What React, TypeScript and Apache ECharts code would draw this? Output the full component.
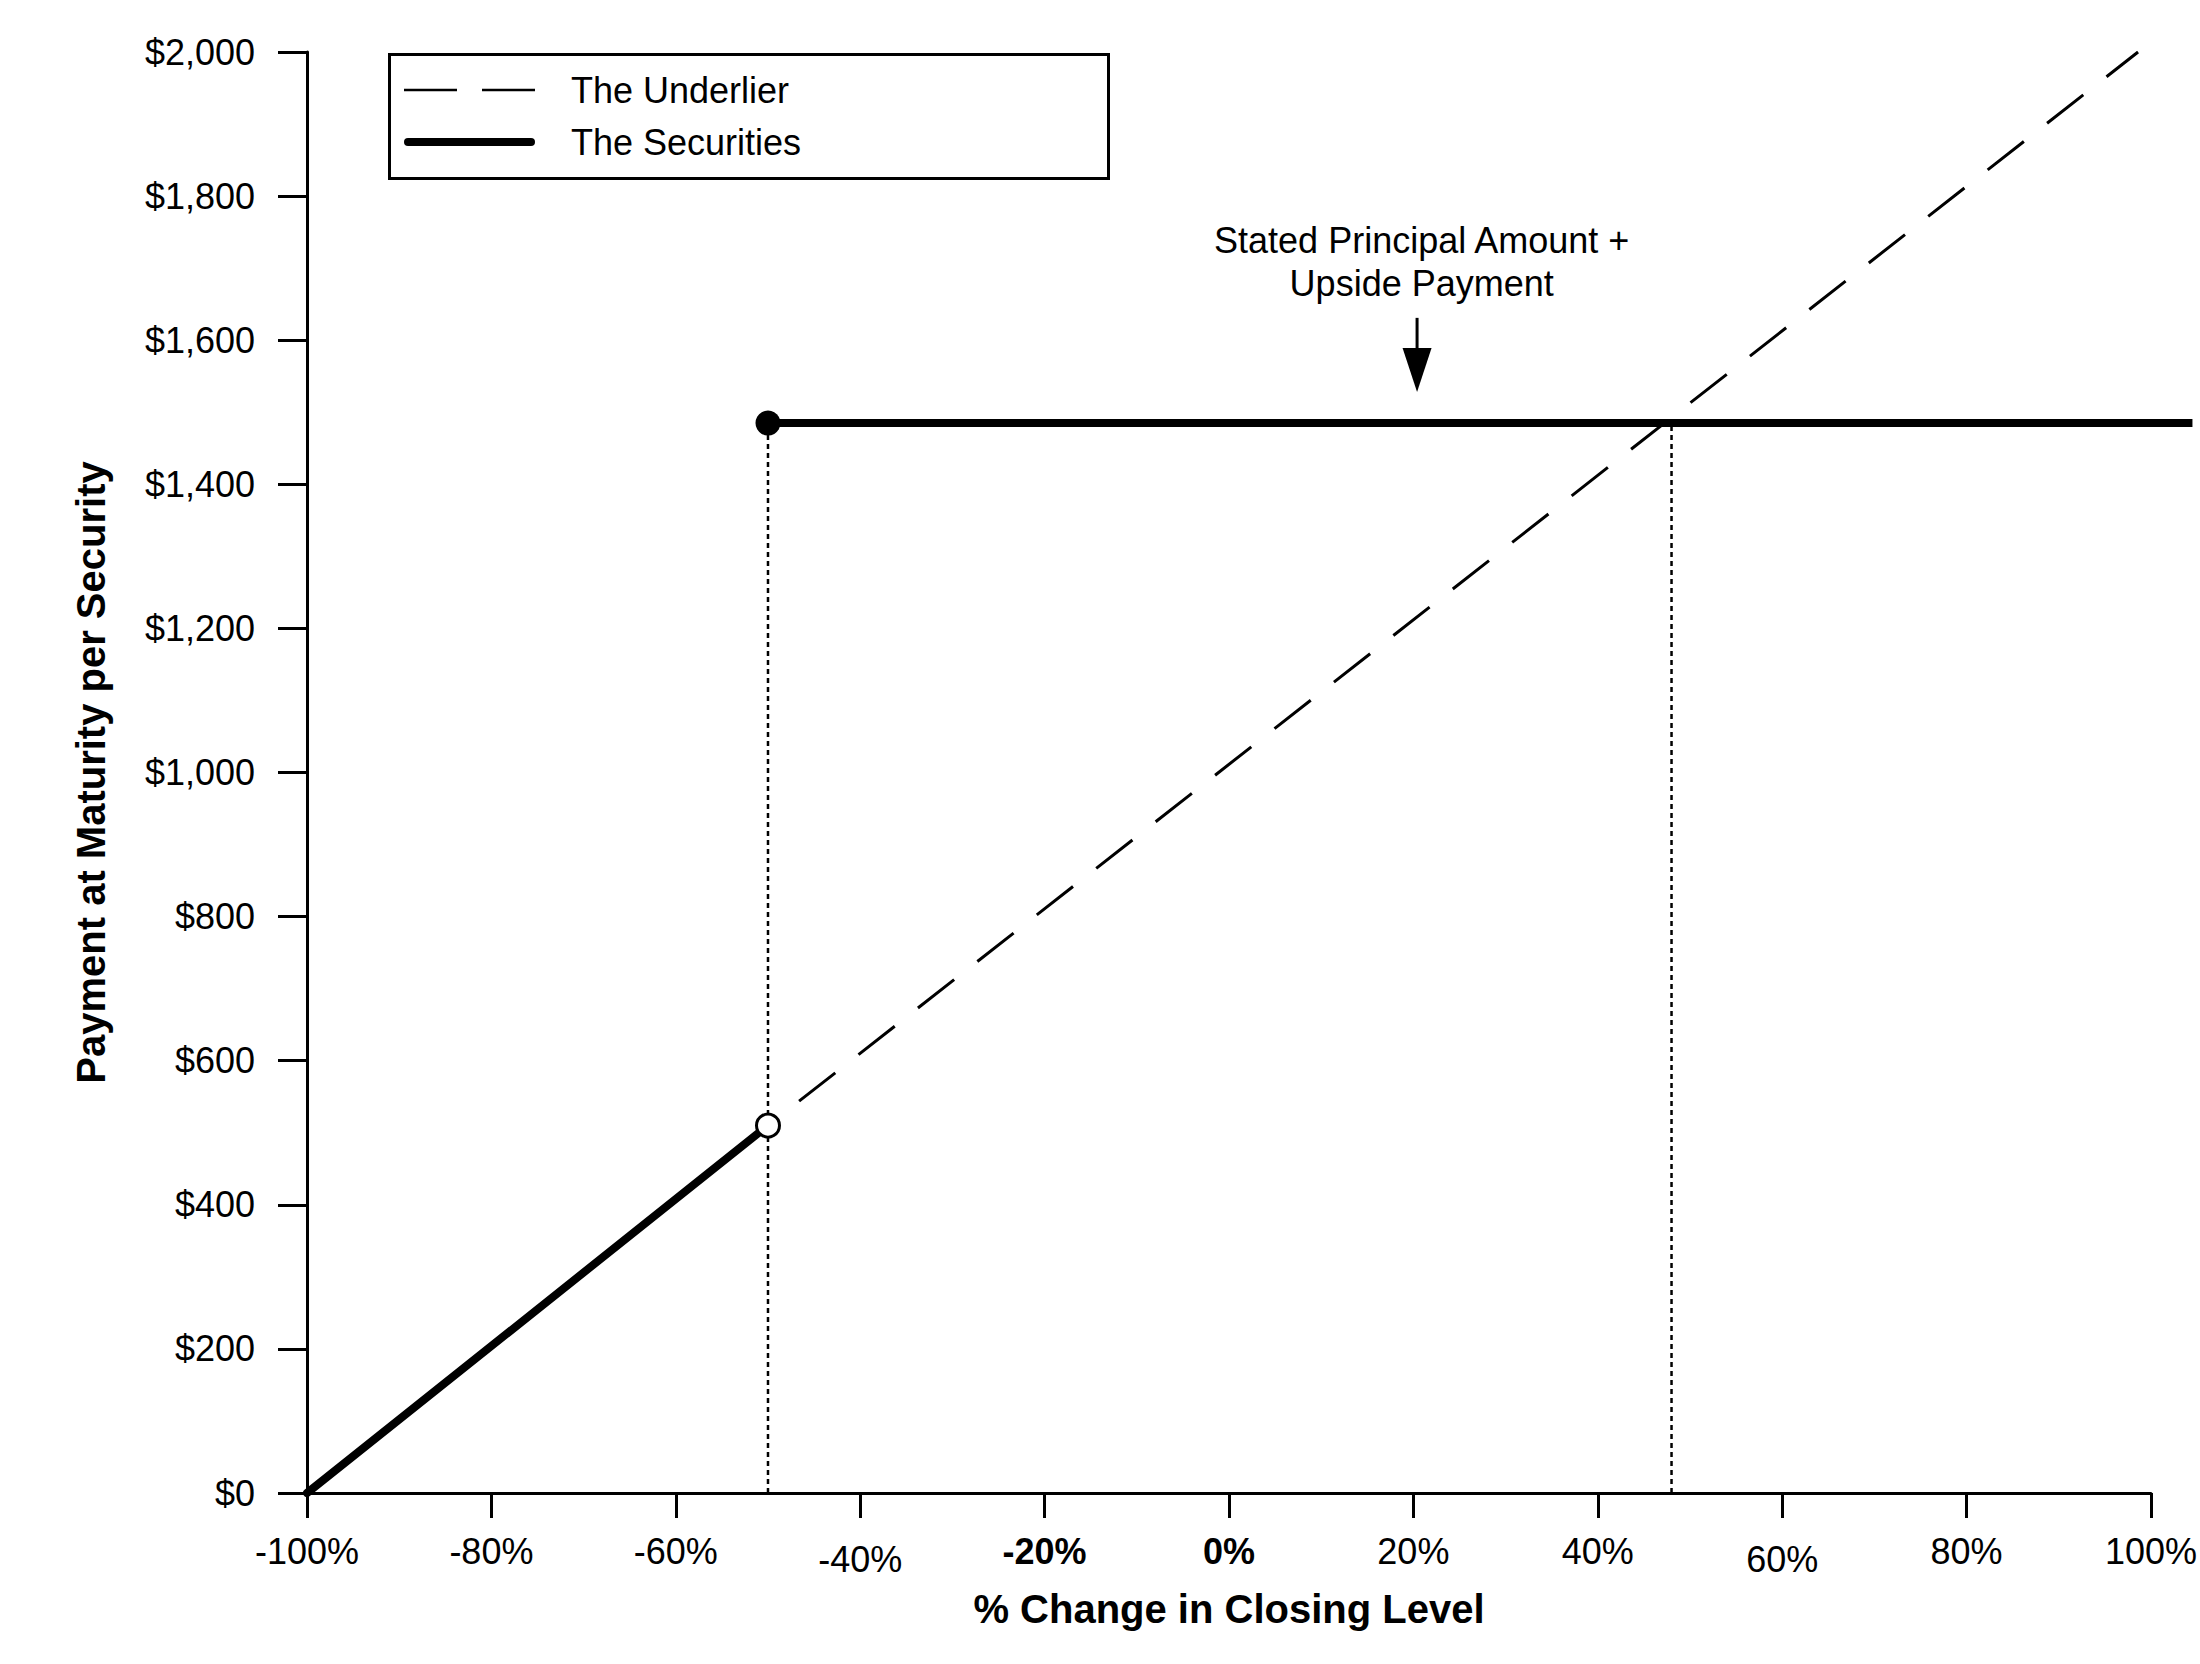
import React, { useEffect, useRef } from "react";
import * as echarts from "echarts";

// ---- data ----
const xTickValues = [-100, -80, -60, -40, -20, 0, 20, 40, 60, 80, 100];
const boldTicks = [-20, 0];
const lowTicks = [-40, 60];
const underlierX = [-50, 98.6];
const underlierY = [510, 2000];
const securitiesLowX = [-100, -50];
const securitiesLowY = [0, 510];
const securitiesHighX = [-50, 104.5];
const securitiesHighY = [1485, 1485];
const openMarker = [-50, 510];
const filledMarker = [-50, 1485];
const dottedX = [-50, 48];
const dottedBottom = 0;
const dottedTop = 1485;
const arrowPoint = [20.4, 1631, 1528];
const notePoint = [20.9, 1708];
const noteLines = ["Stated Principal Amount +", "Upside Payment"];
const seriesNames = ["The Underlier", "The Securities"];

const FONT = "'Liberation Sans', Arial, Helvetica, sans-serif";

function zip(xs: number[], ys: number[]) {
  return xs.map((x, i) => [x, ys[i]]);
}

export default function App() {
  const ref = useRef<HTMLDivElement>(null);
  useEffect(() => {
    if (!ref.current) return;
    const chart = echarts.init(ref.current, null, { renderer: "svg" });
    const legendX = 404;
    const legendLineW = 131;
    const legendRows = [90, 142];
    const option: any = {
      animation: false,
      backgroundColor: "#ffffff",
      grid: { left: 307, top: 52, width: 1853, height: 1441, containLabel: false },
      graphic: [
        {
          type: "rect",
          left: 387,
          top: 52,
          shape: { width: 719, height: 124 },
          style: { fill: "none", stroke: "#000", lineWidth: 3 },
          z: 10,
        },
        {
          type: "line",
          shape: { x1: legendX, y1: legendRows[0], x2: legendX + legendLineW, y2: legendRows[0] },
          style: { stroke: "#000", lineWidth: 2.5, lineDash: [53, 25] },
          z: 10,
        },
        {
          type: "line",
          shape: { x1: legendX + 4, y1: legendRows[1], x2: legendX + legendLineW - 4, y2: legendRows[1] },
          style: { stroke: "#000", lineWidth: 8, lineCap: "round" },
          z: 10,
        },
        ...seriesNames.map((n, i) => ({
          type: "text",
          x: 571,
          y: legendRows[i],
          style: {
            text: n,
            fontSize: 36,
            fontFamily: FONT,
            fill: "#000",
            verticalAlign: "middle",
            align: "left",
          },
          z: 10,
        })),
      ],
      xAxis: {
        type: "value",
        min: -100,
        max: 100,
        interval: 20,
        name: "% Change in Closing Level",
        nameLocation: "middle",
        nameGap: 96,
        nameTextStyle: { fontSize: 40, fontWeight: "bold", fontFamily: FONT, color: "#000" },
        axisLine: { show: true, onZero: false, lineStyle: { color: "#000", width: 3 } },
        axisTick: { show: true, length: 25, lineStyle: { color: "#000", width: 3 } },
        splitLine: { show: false },
        axisLabel: {
          margin: 40,
          fontSize: 36,
          fontFamily: FONT,
          color: "#000",
          formatter: (v: number) => {
            if (!xTickValues.includes(v)) return "";
            const t = v + "%";
            if (boldTicks.includes(v)) return "{b|" + t + "}";
            if (lowTicks.includes(v)) return "{l|" + t + "}";
            return t;
          },
          rich: {
            b: { fontSize: 36, fontWeight: "bold", fontFamily: FONT, color: "#000" },
            l: { fontSize: 36, fontFamily: FONT, color: "#000", padding: [8, 0, 0, 0] },
          },
        },
      },
      yAxis: {
        type: "value",
        min: 0,
        max: 2000,
        interval: 200,
        name: "Payment at Maturity per Security",
        nameLocation: "middle",
        nameGap: 196,
        nameTextStyle: { fontSize: 40, fontWeight: "bold", fontFamily: FONT, color: "#000" },
        axisLine: { show: true, onZero: false, lineStyle: { color: "#000", width: 3 } },
        axisTick: { show: true, length: 29, lineStyle: { color: "#000", width: 3 } },
        splitLine: { show: false },
        axisLabel: {
          margin: 52,
          fontSize: 36,
          fontFamily: FONT,
          color: "#000",
          formatter: (v: number) => "$" + v.toLocaleString("en-US"),
        },
      },
      series: [
        ...dottedX.map((x) => ({
          type: "line",
          name: "dotted" + x,
          data: [
            [x, dottedBottom],
            [x, dottedTop],
          ],
          symbol: "none",
          lineStyle: { color: "#000", width: 2.5, type: [5, 4] },
          z: 1,
          silent: true,
        })),
        {
          type: "line",
          name: seriesNames[0],
          data: zip(underlierX, underlierY),
          symbol: "none",
          color: "#000",
          lineStyle: { color: "#000", width: 3, type: [46, 29.5], dashOffset: 35.5 },
          z: 2,
        },
        {
          type: "line",
          name: seriesNames[1],
          data: zip(securitiesLowX, securitiesLowY),
          symbol: "none",
          color: "#000",
          lineStyle: { color: "#000", width: 8, cap: "round" },
          z: 3,
        },
        {
          type: "custom",
          name: seriesNames[1] + " (cap)",
          data: [[securitiesHighX[0], securitiesHighY[0], securitiesHighX[1], securitiesHighY[1]]],
          clip: false,
          z: 3,
          renderItem: (params: any, api: any) => {
            const a = api.coord([api.value(0), api.value(1)]);
            const b = api.coord([api.value(2), api.value(3)]);
            return {
              type: "line",
              shape: { x1: a[0], y1: a[1], x2: b[0], y2: b[1] },
              style: { stroke: "#000", lineWidth: 8 },
            };
          },
        },
        {
          type: "scatter",
          name: "open",
          data: [openMarker],
          symbol: "circle",
          symbolSize: 23,
          itemStyle: { color: "#ffffff", borderColor: "#000", borderWidth: 3, opacity: 1 },
          z: 5,
        },
        {
          type: "scatter",
          name: "filled",
          data: [filledMarker],
          symbol: "circle",
          symbolSize: 25,
          itemStyle: { color: "#000000", opacity: 1 },
          z: 5,
        },
        {
          type: "custom",
          name: "arrow",
          data: [arrowPoint],
          z: 6,
          renderItem: (params: any, api: any) => {
            const top = api.coord([api.value(0), api.value(1)]);
            const tip = api.coord([api.value(0), api.value(2)]);
            const headLen = 44;
            const headW = 14.5;
            return {
              type: "group",
              children: [
                {
                  type: "line",
                  shape: { x1: top[0], y1: top[1], x2: tip[0], y2: tip[1] - headLen + 2 },
                  style: { stroke: "#000", lineWidth: 3 },
                },
                {
                  type: "polygon",
                  shape: {
                    points: [
                      [tip[0] - headW, tip[1] - headLen],
                      [tip[0] + headW, tip[1] - headLen],
                      [tip[0], tip[1]],
                    ],
                  },
                  style: { fill: "#000" },
                },
              ],
            };
          },
        },
        {
          type: "custom",
          name: "note",
          data: [notePoint],
          z: 6,
          renderItem: (params: any, api: any) => {
            const p = api.coord([api.value(0), api.value(1)]);
            return {
              type: "text",
              x: p[0],
              y: p[1],
              style: {
                text: noteLines.join("\n"),
                fontSize: 36,
                fontFamily: FONT,
                fill: "#000",
                align: "center",
                verticalAlign: "middle",
                lineHeight: 43,
              },
            };
          },
        },
      ],
    };
    chart.setOption(option);
    return () => chart.dispose();
  }, []);
  return (
    <div
      ref={ref}
      style={{ position: "fixed", left: 0, top: 0, width: 2200, height: 1664, background: "#fff" }}
    />
  );
}
